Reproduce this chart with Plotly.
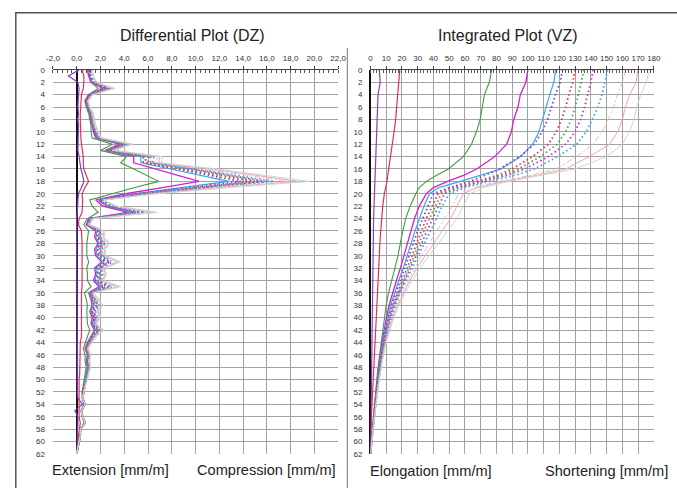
import plotly.graph_objects as go

W, H = 677, 488

# ---------------- data ----------------
depth_dz = list(range(0, 63))
depth_vz = [0, 2, 4, 6, 8, 10, 12, 14, 16, 17, 18, 19, 20, 22, 24, 26, 28, 30, 32, 34,
            36, 38, 40, 42, 44, 46, 48, 50, 52, 54, 56, 58, 60, 62]

dz_tick_vals = [-2, 0, 2, 4, 6, 8, 10, 12, 14, 16, 18, 20, 22]
dz_tick_text = ["-2,0", "0,0", "2,0", "4,0", "6,0", "8,0", "10,0", "12,0", "14,0",
                "16,0", "18,0", "20,0", "22,0"]
vz_tick_vals = list(range(0, 181, 10))
depth_ticks = list(range(0, 63, 2))

series_names = ["S01", "S02", "S03", "S04", "S05", "S06", "S07", "S08", "S09", "S10",
                "S11", "S12", "S13"]

# Differential (DZ) values, one per metre of depth
dz_s01 = [0.2, -0.7, 0.1, 0.2, 0.15, 0.1, 0.1, 0.15, 0.1, 0.15,
          0.15, 0.1, 0.15, 0.1, 0.2, 0.25, 0.35, 0.5, 0.6, 0.4,
          0.15, 0.1, 0.1, 0.05, 0.0, 0.0, 0.05, 0.05, 0.05, 0.05,
          0.05, 0.05, 0.05, 0.05, 0.05, 0.05, 0.05, 0.05, 0.05, 0.05,
          0.05, 0.05, 0.05, 0.05, 0.05, 0.05, 0.05, 0.05, 0.05, 0.05,
          0.05, 0.05, 0.05, 0.1, 0.5, -0.15, 0.1, 0.1, 0.05, 0.05,
          0.05, 0.0, 0.0]
dz_s02 = [0.45, 0.6, 0.6, 0.55, 0.4, 0.35, 0.3, 0.3, 0.3, 0.3,
          0.3, 0.35, 0.4, 0.5, 0.55, 0.55, 0.6, 0.8, 1.0, 0.7,
          0.45, 0.5, 0.5, 0.45, 0.2, 0.15, 0.4, 0.45, 0.45, 0.45,
          0.45, 0.5, 0.45, 0.45, 0.45, 0.45, 0.4, 0.4, 0.4, 0.4,
          0.4, 0.4, 0.45, 0.4, 0.3, 0.3, 0.25, 0.25, 0.25, 0.25,
          0.2, 0.2, 0.2, 0.2, 0.25, 0.2, 0.2, 0.3, 0.2, 0.15,
          0.1, 0.1, 0.05]
dz_s03 = [1.0, 1.1, 1.2, 1.8, 1.0, 0.7, 0.8, 1.0, 1.1, 1.2,
          1.2, 1.3, 3.0, 2.0, 4.2, 3.7, 4.8, 5.9, 6.9, 4.9,
          3.0, 1.1, 1.3, 1.8, 0.9, 0.6, 1.0, 0.9, 0.85, 0.85,
          0.85, 1.0, 0.85, 0.9, 0.9, 1.2, 0.65, 0.8, 0.9, 0.85,
          0.9, 0.9, 1.1, 0.9, 0.7, 0.55, 0.7, 0.7, 0.8, 0.7,
          0.6, 0.5, 0.45, 0.45, 0.6, 0.35, 0.45, 0.6, 0.3, 0.25,
          0.2, 0.1, 0.0]
dz_s04 = [0.9, 1.0, 1.2, 2.2, 1.0, 0.7, 0.9, 1.1, 1.2, 1.3,
          1.4, 1.6, 3.6, 2.4, 4.8, 4.8, 6.6, 8.4, 10.3, 7.2,
          4.1, 1.6, 2.2, 4.3, 1.0, 0.8, 1.6, 1.5, 1.8, 1.5,
          1.6, 2.1, 1.5, 1.6, 1.4, 1.9, 1.0, 1.2, 1.3, 1.1,
          1.3, 1.2, 1.5, 1.2, 0.9, 0.7, 0.9, 0.8, 0.9, 0.8,
          0.7, 0.6, 0.5, 0.5, 0.7, 0.4, 0.5, 0.7, 0.3, 0.3,
          0.2, 0.1, 0.0]
dz_s05 = [1.0, 1.1, 1.3, 2.4, 1.1, 0.8, 0.9, 1.1, 1.2, 1.3,
          1.5, 1.7, 3.8, 2.5, 5.4, 5.4, 7.9, 10.4, 12.8, 8.8,
          4.8, 1.8, 2.5, 4.8, 1.1, 0.9, 1.7, 1.6, 1.9, 1.6,
          1.7, 2.3, 1.6, 1.7, 1.5, 2.1, 1.0, 1.3, 1.4, 1.2,
          1.4, 1.3, 1.6, 1.3, 1.0, 0.8, 0.9, 0.9, 0.9, 0.8,
          0.7, 0.6, 0.6, 0.5, 0.7, 0.4, 0.5, 0.7, 0.3, 0.3,
          0.2, 0.1, 0.0]
dz_s06 = [1.0, 1.1, 1.3, 2.5, 1.1, 0.8, 0.9, 1.1, 1.2, 1.3,
          1.5, 1.7, 3.9, 2.6, 5.6, 5.6, 8.5, 11.2, 13.8, 9.4,
          5.1, 1.9, 2.6, 5.0, 1.1, 0.9, 1.8, 1.7, 2.0, 1.7,
          1.8, 2.4, 1.7, 1.8, 1.6, 2.3, 1.1, 1.3, 1.5, 1.3,
          1.5, 1.3, 1.7, 1.3, 1.0, 0.8, 1.0, 0.9, 1.0, 0.9,
          0.8, 0.6, 0.6, 0.5, 0.7, 0.4, 0.5, 0.7, 0.3, 0.3,
          0.2, 0.1, 0.0]
dz_s07 = [1.1, 1.2, 1.3, 2.6, 1.1, 0.8, 0.9, 1.2, 1.2, 1.4,
          1.5, 1.8, 4.0, 2.6, 5.8, 5.8, 9.0, 12.0, 14.8, 10.0,
          5.4, 1.9, 2.7, 5.3, 1.2, 0.9, 1.9, 1.8, 2.1, 1.8,
          1.9, 2.6, 1.8, 1.9, 1.7, 2.5, 1.1, 1.4, 1.6, 1.3,
          1.5, 1.4, 1.8, 1.4, 1.0, 0.8, 1.0, 0.9, 1.0, 0.9,
          0.8, 0.6, 0.6, 0.5, 0.7, 0.4, 0.5, 0.7, 0.3, 0.3,
          0.2, 0.1, 0.0]
dz_s08 = [1.1, 1.2, 1.4, 2.7, 1.2, 0.8, 1.0, 1.2, 1.3, 1.4,
          1.6, 1.8, 4.1, 2.7, 6.0, 6.0, 9.4, 12.5, 15.4, 10.4,
          5.6, 2.0, 2.8, 5.5, 1.2, 0.9, 2.0, 1.9, 2.2, 1.9,
          2.0, 2.7, 1.9, 2.0, 1.8, 2.7, 1.2, 1.5, 1.7, 1.4,
          1.6, 1.4, 1.9, 1.4, 1.1, 0.8, 1.0, 1.0, 1.0, 0.9,
          0.8, 0.7, 0.6, 0.5, 0.7, 0.4, 0.5, 0.7, 0.3, 0.3,
          0.2, 0.1, 0.0]
dz_s09 = [1.1, 1.2, 1.4, 2.8, 1.2, 0.8, 1.0, 1.2, 1.3, 1.4,
          1.6, 1.9, 4.2, 2.8, 6.2, 6.2, 9.7, 12.9, 15.9, 10.7,
          5.8, 2.0, 2.9, 5.7, 1.2, 0.9, 2.0, 1.9, 2.3, 2.0,
          2.1, 2.8, 2.0, 2.1, 1.9, 2.8, 1.2, 1.5, 1.8, 1.5,
          1.6, 1.5, 1.9, 1.5, 1.1, 0.8, 1.0, 1.0, 1.0, 0.9,
          0.8, 0.7, 0.6, 0.5, 0.7, 0.4, 0.5, 0.7, 0.3, 0.3,
          0.2, 0.1, 0.0]
dz_s10 = [1.2, 1.3, 1.5, 2.9, 1.2, 0.9, 1.0, 1.3, 1.3, 1.5,
          1.7, 1.9, 4.3, 2.9, 6.5, 6.4, 10.1, 13.4, 16.6, 11.1,
          6.0, 2.1, 3.0, 5.9, 1.3, 1.0, 2.1, 2.0, 2.4, 2.1,
          2.2, 3.0, 2.1, 2.2, 2.0, 3.0, 1.3, 1.6, 1.9, 1.6,
          1.7, 1.5, 2.0, 1.5, 1.1, 0.9, 1.1, 1.0, 1.1, 1.0,
          0.8, 0.7, 0.6, 0.5, 0.7, 0.4, 0.5, 0.7, 0.3, 0.3,
          0.2, 0.1, 0.0]
dz_s11 = [1.2, 1.3, 1.6, 3.0, 1.3, 0.9, 1.1, 1.3, 1.4, 1.5,
          1.7, 2.0, 4.5, 3.0, 6.8, 6.7, 10.8, 14.3, 17.8, 11.8,
          6.3, 2.2, 3.2, 6.3, 1.3, 1.0, 2.2, 2.1, 2.6, 2.2,
          2.3, 3.3, 2.2, 2.3, 2.1, 3.3, 1.3, 1.7, 2.0, 1.7,
          1.8, 1.6, 2.1, 1.6, 1.2, 0.9, 1.1, 1.0, 1.1, 1.0,
          0.9, 0.7, 0.6, 0.5, 0.7, 0.4, 0.5, 0.7, 0.3, 0.3,
          0.2, 0.1, 0.0]
dz_s12 = [1.3, 1.4, 1.6, 3.1, 1.3, 0.9, 1.1, 1.4, 1.4, 1.6,
          1.8, 2.0, 4.6, 3.1, 7.0, 6.9, 11.3, 15.0, 18.7, 12.3,
          6.5, 2.2, 3.3, 6.5, 1.4, 1.0, 2.3, 2.2, 2.7, 2.3,
          2.4, 3.5, 2.3, 2.4, 2.2, 3.5, 1.4, 1.8, 2.1, 1.8,
          1.9, 1.6, 2.2, 1.6, 1.2, 0.9, 1.1, 1.1, 1.1, 1.0,
          0.9, 0.7, 0.6, 0.5, 0.7, 0.4, 0.5, 0.7, 0.3, 0.3,
          0.2, 0.1, 0.0]
dz_s13 = [1.3, 1.4, 1.7, 3.2, 1.4, 1.0, 1.1, 1.4, 1.5, 1.6,
          1.8, 2.1, 4.7, 3.2, 7.2, 7.1, 11.8, 15.7, 19.6, 12.8,
          6.8, 2.3, 3.4, 6.8, 1.4, 1.1, 2.4, 2.3, 2.8, 2.4,
          2.5, 3.7, 2.4, 2.5, 2.3, 3.7, 1.4, 1.9, 2.2, 1.9,
          2.0, 1.7, 2.3, 1.7, 1.3, 1.0, 1.2, 1.1, 1.2, 1.0,
          0.9, 0.7, 0.6, 0.5, 0.7, 0.4, 0.5, 0.7, 0.3, 0.3,
          0.2, 0.1, 0.0]

# Integrated (VZ) values at depth_vz
vz_s01 = [5.6, 6.2, 4.8, 4.5, 4.2, 4.0, 3.7, 3.4, 3.0, 2.8, 2.6, 2.4, 2.3, 2.1, 2.0, 1.9,
          1.8, 1.6, 1.5, 1.4, 1.3, 1.3, 1.2, 1.1, 1.0, 1.0, 0.9, 0.8, 0.7, 0.6, 0.5, 0.3,
          0.2, 0.0]
vz_s02 = [18.6, 18.0, 17.3, 16.6, 16.0, 15.0, 13.8, 12.4, 11.4, 11.0, 10.5, 9.6, 8.8, 7.8,
          7.0, 6.5, 6.0, 5.6, 5.2, 4.9, 4.5, 4.0, 3.6, 3.2, 2.8, 2.4, 2.0, 1.5, 1.2, 0.9,
          0.6, 0.4, 0.2, 0.0]
vz_s03 = [77.0, 75.5, 72.4, 71.0, 69.7, 67.3, 64.2, 59.0, 49.5, 42.0, 35.5, 31.0, 28.8, 25.2,
          22.4, 20.5, 19.2, 17.5, 15.5, 13.5, 11.5, 10.0, 8.9, 7.9, 6.8, 5.8, 4.8, 4.0,
          3.3, 2.6, 1.9, 1.2, 0.5, 0.0]
vz_s04 = [100.0, 98.7, 95.2, 93.7, 91.0, 89.5, 86.5, 79.0, 67.5, 59.5, 49.0, 40.0, 35.5, 31.0,
          28.0, 25.8, 23.6, 21.5, 19.0, 16.5, 14.0, 11.8, 10.2, 8.7, 7.3, 6.2, 5.2, 4.3,
          3.5, 2.7, 2.0, 1.3, 0.6, 0.0]
vz_s05 = [117.6, 116.5, 113.9, 111.5, 109.0, 107.0, 103.0, 95.5, 83.0, 70.5, 57.0, 43.5, 37.5,
          34.0, 31.0, 28.3, 25.8, 23.5, 20.8, 18.0, 15.2, 12.8, 11.0, 9.3, 7.8, 6.6, 5.5,
          4.5, 3.7, 2.9, 2.1, 1.4, 0.7, 0.0]
vz_s06 = [122.0, 120.5, 117.5, 115.0, 112.5, 109.0, 104.0, 95.0, 82.0, 73.0, 63.0, 50.0, 40.0,
          36.5, 33.0, 30.0, 27.2, 24.5, 21.7, 18.8, 16.0, 13.5, 11.5, 9.7, 8.2, 6.9, 5.8,
          4.8, 3.9, 3.0, 2.2, 1.5, 0.7, 0.0]
vz_s07 = [130.0, 128.5, 126.0, 124.0, 121.5, 118.0, 113.0, 103.0, 90.0, 81.0, 67.0, 53.0,
          43.0, 39.0, 35.5, 32.3, 29.3, 26.3, 23.2, 20.0, 17.0, 14.3, 12.1, 10.2, 8.6, 7.2,
          6.0, 5.0, 4.0, 3.1, 2.3, 1.5, 0.7, 0.0]
vz_s08 = [135.6, 134.0, 132.0, 130.0, 127.5, 124.0, 118.5, 108.0, 94.0, 84.0, 70.0, 55.0,
          45.0, 41.0, 37.5, 34.0, 30.8, 27.5, 24.2, 20.8, 17.6, 14.8, 12.5, 10.5, 8.8, 7.4,
          6.2, 5.1, 4.1, 3.2, 2.3, 1.5, 0.7, 0.0]
vz_s09 = [141.4, 140.0, 138.0, 136.0, 133.5, 130.0, 124.0, 113.0, 98.0, 87.0, 72.0, 57.0,
          47.0, 43.0, 39.5, 36.0, 32.5, 29.0, 25.3, 21.7, 18.3, 15.3, 12.9, 10.8, 9.0, 7.5,
          6.3, 5.2, 4.2, 3.2, 2.3, 1.5, 0.7, 0.0]
vz_s10 = [150.5, 149.0, 147.0, 144.5, 141.0, 137.0, 131.0, 119.0, 104.0, 92.0, 76.0, 60.0,
          50.0, 45.5, 42.0, 38.0, 34.5, 30.5, 26.5, 22.7, 19.0, 15.9, 13.3, 11.1, 9.3, 7.8,
          6.5, 5.3, 4.3, 3.3, 2.4, 1.5, 0.7, 0.0]
vz_s11 = [162.0, 160.0, 157.0, 154.5, 151.0, 147.0, 141.5, 131.0, 118.0, 102.0, 82.0, 66.0,
          56.0, 52.0, 47.0, 42.0, 37.5, 32.5, 28.0, 24.0, 20.5, 17.0, 14.0, 11.5, 9.5, 8.0,
          6.6, 5.4, 4.4, 3.4, 2.4, 1.6, 0.8, 0.0]
vz_s12 = [169.8, 168.8, 164.6, 162.0, 160.0, 157.0, 152.0, 139.0, 124.0, 106.0, 85.0, 68.0,
          59.0, 55.0, 51.0, 45.5, 40.0, 34.5, 29.5, 25.0, 21.0, 17.5, 14.3, 11.8, 9.7, 8.1,
          6.7, 5.5, 4.4, 3.4, 2.4, 1.6, 0.8, 0.0]
vz_s13 = [177.6, 175.0, 171.8, 169.0, 167.5, 164.5, 160.0, 150.0, 130.0, 110.0, 88.0, 72.0,
          63.0, 59.0, 55.0, 49.0, 43.0, 37.0, 31.5, 26.5, 22.0, 18.0, 14.8, 12.1, 9.9, 8.2,
          6.8, 5.6, 4.5, 3.5, 2.5, 1.6, 0.8, 0.0]

dz_all = [dz_s01, dz_s02, dz_s03, dz_s04, dz_s05, dz_s06, dz_s07, dz_s08, dz_s09,
          dz_s10, dz_s11, dz_s12, dz_s13]
vz_all = [vz_s01, vz_s02, vz_s03, vz_s04, vz_s05, vz_s06, vz_s07, vz_s08, vz_s09,
          vz_s10, vz_s11, vz_s12, vz_s13]

for a in dz_all:
    assert len(a) == len(depth_dz), len(a)
for a in vz_all:
    assert len(a) == len(depth_vz), len(a)

# ---------------- styles ----------------
styles = [
    ("#8040c8", "solid", 1.2),
    ("#e23058", "solid", 1.2),
    ("#3c9e3c", "solid", 1.1),
    ("#d420d0", "solid", 1.3),
    ("#3aa8e0", "solid", 1.2),
    ("#7a4cd0", "1.6px,2.6px", 1.8),
    ("#e03a5c", "1.6px,2.6px", 1.8),
    ("#46ae4c", "1.6px,2.6px", 1.8),
    ("#cc38c8", "1.6px,2.6px", 1.8),
    ("#3cb2e4", "1.6px,2.6px", 1.8),
    ("#e8bcd2", "6px,2px,2px,2px", 1.0),
    ("#f0a4b8", "solid", 1.0),
    ("#c6dcc6", "solid", 1.0),
]

fig = go.Figure()

for name, vals, (col, dash, w) in zip(series_names, dz_all, styles):
    fig.add_trace(go.Scatter(x=vals, y=depth_dz, mode="lines", name=name,
                             line=dict(color=col, dash=dash, width=w),
                             xaxis="x", yaxis="y", showlegend=False))
for name, vals, (col, dash, w) in zip(series_names, vz_all, styles):
    fig.add_trace(go.Scatter(x=vals, y=depth_vz, mode="lines", name=name,
                             line=dict(color=col, dash=dash, width=w),
                             xaxis="x2", yaxis="y2", showlegend=False))


def px(x):
    return x / W


def py(y):
    return 1 - y / H


grid_col = "#a3a3a3"
tick_font = dict(family="Liberation Sans, Arial, sans-serif", size=8, color="#333333")

common_x = dict(side="top", showgrid=True, gridcolor=grid_col, gridwidth=1,
                showline=True, linecolor="#444444", linewidth=1,
                ticks="outside", ticklen=3, tickcolor="#444444", tickangle=0,
                tickfont=tick_font, zeroline=True, zerolinecolor="#111111",
                zerolinewidth=1.6, ticklabelstandoff=2, fixedrange=True)
common_y = dict(autorange=False, range=[62, 0], tickmode="array", tickvals=depth_ticks,
                ticktext=[str(v) for v in depth_ticks], showgrid=True, tickangle=0,
                gridcolor=grid_col, gridwidth=1, showline=False, zeroline=False,
                ticks="", tickfont=tick_font, ticklabelstandoff=7, fixedrange=True)

fig.update_layout(
    width=W, height=H,
    margin=dict(l=0, r=0, t=0, b=0),
    paper_bgcolor="white", plot_bgcolor="white",
    xaxis=dict(domain=[px(47), px(338.6)], range=[-2, 22], anchor="y",
               tickmode="array", tickvals=dz_tick_vals, ticktext=dz_tick_text,
               minor=dict(dtick=0.4, tick0=0, ticks="inside", ticklen=3,
                          tickcolor="#555555", showgrid=False),
               **common_x),
    yaxis=dict(domain=[py(458.4), py(67.1)], anchor="x", **common_y),
    xaxis2=dict(domain=[px(371.7), px(661.5)], range=[0, 180], anchor="y2",
                tickmode="array", tickvals=vz_tick_vals,
                ticktext=[str(v) for v in vz_tick_vals],
                minor=dict(dtick=2, tick0=0, ticks="inside", ticklen=3,
                           tickcolor="#555555", showgrid=False),
                **common_x),
    yaxis2=dict(domain=[py(458.4), py(67.1)], anchor="x2", **common_y),
    font=dict(family="Liberation Sans, Arial, sans-serif", color="#222222"),
)

ann_font_title = dict(family="Liberation Sans, Arial, sans-serif", size=16, color="#222222")
ann_font_lab = dict(family="Liberation Sans, Arial, sans-serif", size=14.6, color="#222222")
annotations = [
    dict(text="Differential Plot (DZ)", x=px(190), y=py(32), xanchor="center",
         yanchor="middle", font=ann_font_title),
    dict(text="Integrated Plot (VZ)", x=px(512), y=py(32), xanchor="center",
         yanchor="middle", font=ann_font_title),
    dict(text="Extension [mm/m]", x=px(44), y=py(475), xanchor="left",
         yanchor="middle", font=ann_font_lab),
    dict(text="Compression [mm/m]", x=px(339), y=py(475), xanchor="right",
         yanchor="middle", font=ann_font_lab),
    dict(text="Elongation [mm/m]", x=px(369), y=py(476), xanchor="left",
         yanchor="middle", font=ann_font_lab),
    dict(text="Shortening [mm/m]", x=px(678), y=py(476), xanchor="right",
         yanchor="middle", font=ann_font_lab),
]
for a in annotations:
    a.update(xref="paper", yref="paper", showarrow=False)
fig.update_layout(annotations=annotations)

shapes = [
    dict(type="rect", xref="paper", yref="paper", x0=px(9), x1=px(700), y0=py(520),
         y1=py(9), line=dict(color="#555555", width=1.5), fillcolor="rgba(0,0,0,0)"),
    dict(type="line", xref="paper", yref="paper", x0=px(348), x1=px(348), y0=py(45),
         y1=py(520), line=dict(color="#777777", width=1)),
]
fig.update_layout(shapes=shapes)

fig.write_html(
    "out.html",
    config={"displayModeBar": False},
    post_script="document.body.style.margin='0';document.body.style.overflow='hidden';",
)
